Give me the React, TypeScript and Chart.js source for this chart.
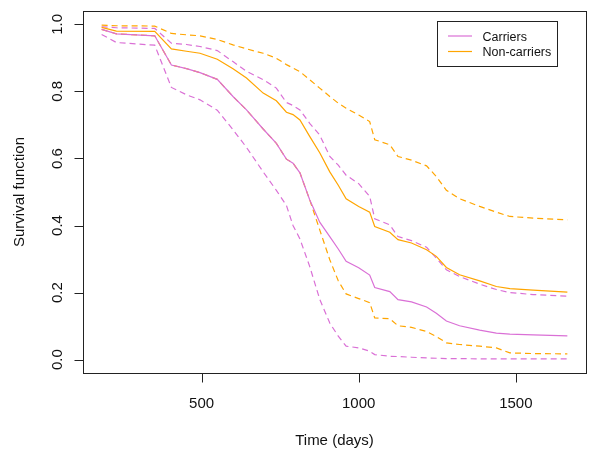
import React, { useEffect, useRef } from 'react';
import { Chart, registerables } from 'chart.js';

Chart.register(...registerables);

// Time grid (days)
const times = [182, 229, 351, 404, 452, 495, 550, 600, 643, 696, 738, 770, 791, 813, 844, 876, 908, 935, 960, 1000, 1035, 1051, 1099, 1125, 1168, 1216, 1247, 1279, 1321, 1385, 1438, 1481, 1555, 1664];

const carriers = [0.985, 0.972, 0.966, 0.879, 0.868, 0.856, 0.836, 0.785, 0.745, 0.688, 0.645, 0.598, 0.586, 0.557, 0.477, 0.41, 0.367, 0.33, 0.293, 0.274, 0.252, 0.215, 0.203, 0.179, 0.172, 0.157, 0.138, 0.115, 0.101, 0.088, 0.079, 0.076, 0.074, 0.071];
const carriersUpper = [0.993, 0.99, 0.988, 0.944, 0.94, 0.934, 0.922, 0.889, 0.86, 0.835, 0.81, 0.767, 0.758, 0.745, 0.705, 0.67, 0.606, 0.58, 0.55, 0.525, 0.487, 0.42, 0.402, 0.367, 0.355, 0.335, 0.303, 0.268, 0.248, 0.225, 0.209, 0.2, 0.194, 0.189];
const carriersLower = [0.97, 0.946, 0.938, 0.812, 0.79, 0.775, 0.744, 0.686, 0.633, 0.56, 0.505, 0.46, 0.4, 0.36, 0.278, 0.18, 0.109, 0.07, 0.04, 0.035, 0.025, 0.015, 0.01, 0.009, 0.007, 0.005, 0.004, 0.003, 0.003, 0.002, 0.002, 0.002, 0.002, 0.002];

const nonCarriers = [0.991, 0.98, 0.979, 0.927, 0.92, 0.914, 0.896, 0.868, 0.84, 0.795, 0.772, 0.738, 0.731, 0.715, 0.666, 0.617, 0.56, 0.52, 0.48, 0.457, 0.44, 0.397, 0.38, 0.358, 0.348, 0.328, 0.308, 0.275, 0.253, 0.235, 0.218, 0.212, 0.207, 0.201];
const nonCarriersUpper = [0.998, 0.996, 0.995, 0.973, 0.969, 0.966, 0.955, 0.939, 0.927, 0.914, 0.899, 0.88, 0.87, 0.859, 0.835, 0.81, 0.785, 0.765, 0.75, 0.73, 0.71, 0.656, 0.641, 0.606, 0.595, 0.578, 0.546, 0.505, 0.48, 0.457, 0.44, 0.427, 0.422, 0.417];
const nonCarriersLower = [0.985, 0.972, 0.966, 0.879, 0.868, 0.856, 0.836, 0.785, 0.745, 0.688, 0.645, 0.598, 0.586, 0.557, 0.477, 0.387, 0.298, 0.235, 0.196, 0.182, 0.17, 0.124, 0.122, 0.101, 0.096, 0.084, 0.069, 0.05, 0.045, 0.04, 0.035, 0.02, 0.018, 0.017];

const xTicks = [500, 1000, 1500];
const yTicks = [0, 0.2, 0.4, 0.6, 0.8, 1.0];
const yTickLabels = ['0.0', '0.2', '0.4', '0.6', '0.8', '1.0'];
const legendLabels = ['Carriers', 'Non-carriers'];
const xTitle = 'Time (days)';
const yTitle = 'Survival function';

const PINK = '#DA70D6';
const ORANGE = '#FFA500';
const FONT = '"Liberation Sans", Arial, Helvetica, sans-serif';

const toPoints = (vals: number[]) => vals.map((v, i) => ({ x: times[i], y: v }));

const rAxesPlugin = {
  id: 'rAxes',
  afterDraw(chart: any) {
    const { ctx, chartArea, scales } = chart;
    const { left, top, right, bottom } = chartArea;
    const xs = scales.x;
    const ys = scales.y;
    ctx.save();
    ctx.strokeStyle = '#222';
    ctx.lineWidth = 1;
    const L = Math.round(left) + 0.5;
    const T = Math.round(top) + 0.5;
    const R = Math.round(right) + 0.5;
    const B = Math.round(bottom) + 0.5;
    ctx.strokeRect(L, T, R - L, B - T);

    ctx.fillStyle = '#111';
    ctx.font = `15px ${FONT}`;
    // x ticks
    ctx.beginPath();
    xTicks.forEach((v) => {
      const px = Math.round(xs.getPixelForValue(v)) + 0.5;
      ctx.moveTo(px, B);
      ctx.lineTo(px, B + 9);
    });
    ctx.stroke();
    ctx.textAlign = 'center';
    ctx.textBaseline = 'alphabetic';
    xTicks.forEach((v) => {
      const px = xs.getPixelForValue(v);
      ctx.fillText(String(v), px, 408);
    });
    // y ticks
    ctx.beginPath();
    yTicks.forEach((v) => {
      const py = Math.round(ys.getPixelForValue(v)) + 0.5;
      ctx.moveTo(L, py);
      ctx.lineTo(L - 9, py);
    });
    ctx.stroke();
    yTicks.forEach((v, i) => {
      const py = ys.getPixelForValue(v);
      ctx.save();
      ctx.translate(61.5, py);
      ctx.rotate(-Math.PI / 2);
      ctx.textAlign = 'center';
      ctx.fillText(yTickLabels[i], 0, 0);
      ctx.restore();
    });
    // titles
    ctx.textAlign = 'center';
    ctx.fillText(xTitle, (left + right) / 2, 445);
    ctx.save();
    ctx.translate(23.5, (top + bottom) / 2);
    ctx.rotate(-Math.PI / 2);
    ctx.fillText(yTitle, 0, 0);
    ctx.restore();

    // legend
    ctx.strokeStyle = '#222';
    ctx.strokeRect(437.5, 21.5, 120, 45);
    const colors = [PINK, ORANGE];
    const lys = [36, 51.5];
    ctx.font = `12.5px ${FONT}`;
    ctx.textAlign = 'left';
    legendLabels.forEach((lab, i) => {
      ctx.strokeStyle = colors[i];
      ctx.lineWidth = 1.2;
      ctx.beginPath();
      ctx.moveTo(448, lys[i]);
      ctx.lineTo(472, lys[i]);
      ctx.stroke();
      ctx.fillText(lab, 482.5, lys[i] + 4.5);
    });
    ctx.restore();
  },
};

export default function App() {
  const ref = useRef<HTMLCanvasElement | null>(null);
  useEffect(() => {
    if (!ref.current) return;
    const solid = { borderWidth: 1.2, pointRadius: 0, tension: 0, fill: false };
    const dashed = { ...solid, borderDash: [6, 4] };
    const chart = new Chart(ref.current, {
      type: 'line',
      data: {
        datasets: [
          { label: 'Carriers', data: toPoints(carriers), borderColor: PINK, ...solid },
          { label: 'Non-carriers', data: toPoints(nonCarriers), borderColor: ORANGE, ...solid },
          { label: 'Carriers upper', data: toPoints(carriersUpper), borderColor: PINK, ...dashed },
          { label: 'Carriers lower', data: toPoints(carriersLower), borderColor: PINK, ...dashed },
          { label: 'Non-carriers upper', data: toPoints(nonCarriersUpper), borderColor: ORANGE, ...dashed },
          { label: 'Non-carriers lower', data: toPoints(nonCarriersLower), borderColor: ORANGE, ...dashed },
        ] as any,
      },
      options: {
        animation: false,
        responsive: false,
        layout: { padding: { left: 83, top: 11, right: 14, bottom: 85 } },
        scales: {
          x: { type: 'linear', display: false, min: 122.7, max: 1723.3 },
          y: { type: 'linear', display: false, min: -0.04, max: 1.04 },
        },
        plugins: { legend: { display: false }, tooltip: { enabled: false } },
      },
      plugins: [rAxesPlugin],
    });
    return () => chart.destroy();
  }, []);
  return (
    <div style={{ position: 'absolute', left: 0, top: 0, width: 600, height: 458, background: '#fff' }}>
      <canvas ref={ref} width={600} height={458} />
    </div>
  );
}
